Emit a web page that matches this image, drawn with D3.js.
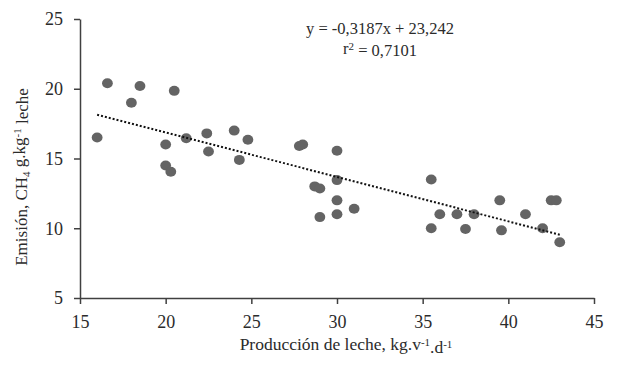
<!DOCTYPE html>
<html lang="es">
<head>
    <meta charset="UTF-8">
    <title>Emisión de CH4 vs producción de leche</title>
    <script src="https://d3js.org/d3.v7.min.js"></script>
    <style>
        body {
            margin: 0;
            background-color: #fff;
        }
        svg text {
            font-family: "Liberation Serif", "Times New Roman", serif;
            fill: #2b2b2b;
        }
        .axis path, .axis line {
            stroke: #404040;
            stroke-width: 1.5px;
        }
        .axis text {
            font-size: 18px;
        }
    </style>
</head>
<body>
    <div id="chart"></div>

    <script>
        // produccion de leche (kg/vaca/día)
        const produccion = [16, 16.6, 18, 18.5, 20.5, 20, 20, 20.3, 21.2, 22.4, 22.5, 24, 24.3, 24.8,
            27.8, 28, 28.7, 29, 29, 30, 30, 30, 30, 31, 35.5, 35.5, 36, 37, 37.5, 38,
            39.5, 39.6, 41, 42, 42.5, 42.8, 43];
        // emisión CH4 (g/kg leche)
        const emision = [16.5, 20.4, 19, 20.2, 19.85, 16, 14.5, 14.05, 16.45, 16.8, 15.5, 17, 14.9, 16.35,
            15.9, 16, 13, 12.85, 10.8, 15.55, 13.45, 12, 11, 11.4, 13.5, 10, 11, 11, 9.95, 11,
            12, 9.85, 11, 10, 12, 12, 9];

        const xTicks = [15, 20, 25, 30, 35, 40, 45];
        const yTicks = [5, 10, 15, 20, 25];

        const slope = -0.3187;
        const intercept = 23.242;
        const trendRange = [16, 43];

        const width = 620, height = 372;
        const margin = {top: 19, right: 26, bottom: 74, left: 80};

        const svg = d3.select("#chart")
            .append("svg")
            .attr("width", width)
            .attr("height", height);

        const x = d3.scaleLinear()
            .domain([15, 45])
            .range([margin.left, width - margin.right]);

        const y = d3.scaleLinear()
            .domain([5, 25])
            .range([height - margin.bottom, margin.top]);

        // axes
        svg.append("g")
            .attr("class", "axis")
            .attr("transform", `translate(0,${height - margin.bottom})`)
            .call(d3.axisBottom(x).tickValues(xTicks).tickSize(6).tickPadding(10).tickSizeOuter(0))
            .call(g => g.selectAll("text").attr("dy", "0.75em"));

        svg.append("g")
            .attr("class", "axis")
            .attr("transform", `translate(${margin.left},0)`)
            .call(d3.axisLeft(y).tickValues(yTicks).tickSize(6).tickPadding(11).tickSizeOuter(0));

        // points
        const points = produccion.map((p, i) => ({x: p, y: emision[i]}));

        svg.append("g")
            .selectAll("ellipse")
            .data(points)
            .enter().append("ellipse")
            .attr("cx", d => x(d.x))
            .attr("cy", d => y(d.y))
            .attr("rx", 5.4)
            .attr("ry", 5)
            .attr("fill", "#646464");

        // trend line
        svg.append("line")
            .attr("x1", x(trendRange[0]))
            .attr("y1", y(slope * trendRange[0] + intercept))
            .attr("x2", x(trendRange[1]))
            .attr("y2", y(slope * trendRange[1] + intercept))
            .attr("stroke", "#111")
            .attr("stroke-width", 2)
            .attr("stroke-dasharray", "2,2");

        // equation
        svg.append("text")
            .attr("x", 380)
            .attr("y", 34)
            .attr("text-anchor", "middle")
            .style("font-size", "16.5px")
            .text("y = -0,3187x + 23,242");

        const r2 = svg.append("text")
            .attr("x", 380)
            .attr("y", 54)
            .attr("text-anchor", "middle")
            .style("font-size", "16.5px");
        r2.append("tspan").text("r");
        r2.append("tspan").attr("dy", "-0.4em").style("font-size", "11px").text("2");
        r2.append("tspan").attr("dy", "0.4em").text(" = 0,7101");

        // x label
        const xl = svg.append("text")
            .attr("x", 346)
            .attr("y", 350)
            .attr("text-anchor", "middle")
            .style("font-size", "17.5px");
        xl.append("tspan").text("Producción de leche, kg.v");
        xl.append("tspan").attr("dy", "-0.4em").style("font-size", "11px").text("-1");
        xl.append("tspan").attr("dy", "0.4em").text(".d");
        xl.append("tspan").attr("dy", "-0.4em").style("font-size", "11px").text("-1");

        // y label
        const yl = svg.append("text")
            .attr("transform", `translate(27,177) rotate(-90)`)
            .attr("text-anchor", "middle")
            .style("font-size", "17px");
        yl.append("tspan").text("Emisión, CH");
        yl.append("tspan").attr("dy", "0.3em").style("font-size", "11px").text("4");
        yl.append("tspan").attr("dy", "-0.3em").text(" g.kg");
        yl.append("tspan").attr("dy", "-0.4em").style("font-size", "11px").text("-1");
        yl.append("tspan").attr("dy", "0.4em").text(" leche");
    </script>
</body>
</html>
